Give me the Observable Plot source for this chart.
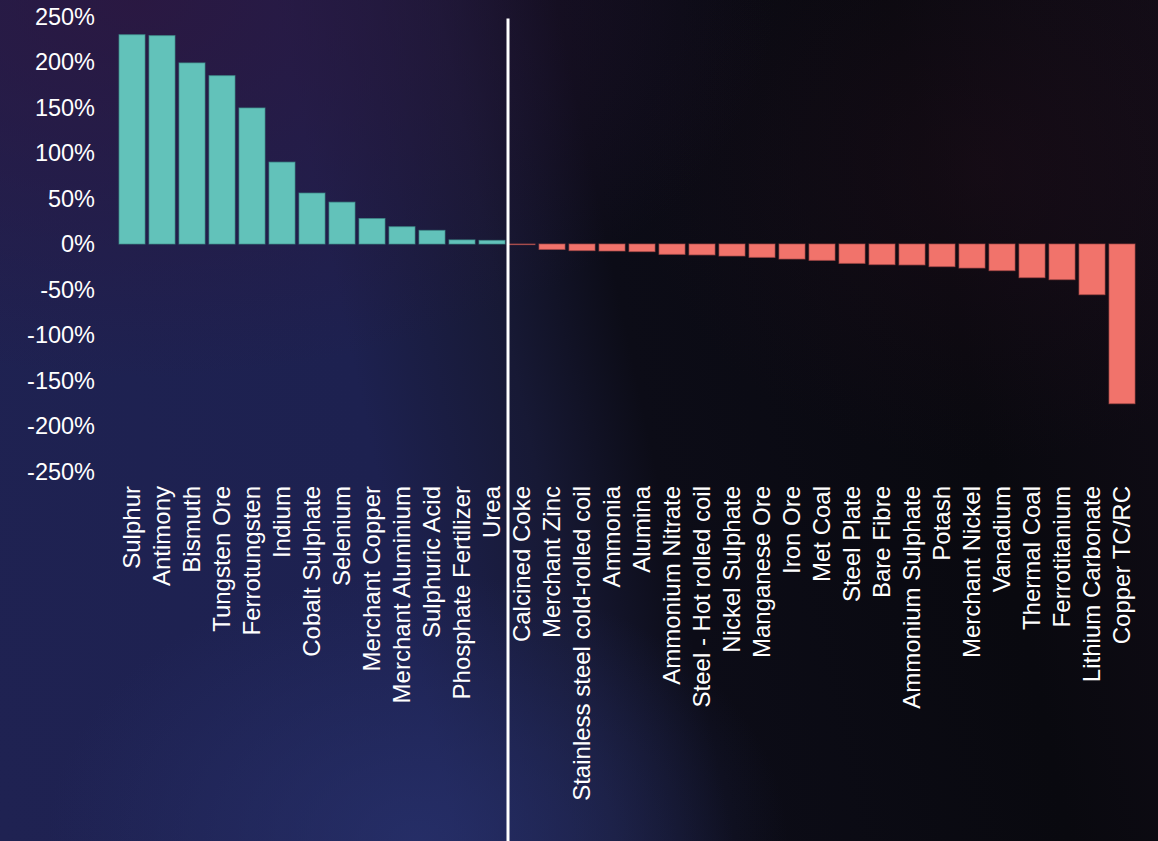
<!DOCTYPE html>
<html>
<head>
<meta charset="utf-8">
<script src="https://cdn.jsdelivr.net/npm/d3@7"></script>
<script src="https://cdn.jsdelivr.net/npm/@observablehq/plot@0.6"></script>
<style>
  html, body { margin: 0; padding: 0; width: 1158px; height: 841px; overflow: hidden; }
  body {
    background:
      radial-gradient(ellipse 32% 32% at 36% 100%, rgba(40,50,110,0.75) 0%, rgba(40,50,110,0) 100%),
      radial-gradient(ellipse 55% 45% at 12% 0%, rgba(45,22,62,0.8) 0%, rgba(45,22,62,0) 100%),
      radial-gradient(ellipse 30% 35% at 85% 20%, rgba(40,15,30,0.35) 0%, rgba(40,15,30,0) 100%),
      linear-gradient(78deg, #1f2252 0%, #1d2150 34%, #171935 46%, #0c0c17 55%, #09090f 80%, #110c16 100%);
    font-family: "Liberation Sans", Arial, sans-serif;
  }
  #chart svg { display: block; }
</style>
</head>
<body>
<div id="chart"></div>
<script>
const categories = [
  "Sulphur", "Antimony", "Bismuth", "Tungsten Ore", "Ferrotungsten", "Indium",
  "Cobalt Sulphate", "Selenium", "Merchant Copper", "Merchant Aluminium",
  "Sulphuric Acid", "Phosphate Fertilizer", "Urea", "Calcined Coke", "Merchant Zinc",
  "Stainless steel cold-rolled coil", "Ammonia", "Alumina", "Ammonium Nitrate",
  "Steel - Hot rolled coil", "Nickel Sulphate", "Manganese Ore", "Iron Ore", "Met Coal",
  "Steel Plate", "Bare Fibre", "Ammonium Sulphate", "Potash", "Merchant Nickel",
  "Vanadium", "Thermal Coal", "Ferrotitanium", "Lithium Carbonate", "Copper TC/RC"
];
const changes = [
  230, 229, 199, 185, 149.5, 90,
  56, 46, 28, 19,
  15, 4.5, 4, -0.7, -6,
  -7.3, -7.7, -8.4, -11.4,
  -12, -13.2, -14.7, -16.5, -18,
  -21.3, -22.7, -23, -24.9, -26.4,
  -29.3, -37, -39.2, -55.7, -175.5
];
const yTicks = [250, 200, 150, 100, 50, 0, -50, -100, -150, -200, -250];
const dividerAt = ["Calcined Coke"];

const data = categories.map((name, i) => ({name, value: changes[i]}));

const chart = Plot.plot({
  width: 1158,
  height: 841,
  marginTop: 16.5,
  marginLeft: 114,
  marginRight: 19,
  marginBottom: 369.5,
  style: {background: "transparent", color: "white", fontFamily: "'Liberation Sans', Arial, sans-serif"},
  x: {domain: categories, padding: 0.15, label: null},
  y: {domain: [-250, 250], label: null},
  marks: [
    Plot.barY(data, {
      x: "name", y: "value",
      fill: d => d.value >= 0 ? "#62c2ba" : "#f1736b",
      stroke: d => d.value >= 0 ? "#3f8f8a" : "#a84a48",
      strokeWidth: 1, strokeOpacity: 0.7
    }),
    Plot.axisY(yTicks, {
      tickSize: 0, tickPadding: 19.5, tickFormat: d => d + "%",
      fontSize: 23.5, fill: "white"
    }),
    Plot.axisX({
      tickSize: 0, tickPadding: 14, tickRotate: -90,
      fontSize: 24, fill: "white"
    }),
    Plot.ruleX(dividerAt, {
      x: d => d, dx: -14.5, stroke: "white", strokeWidth: 3,
      insetTop: 2, insetBottom: -370
    })
  ]
});
document.getElementById("chart").appendChild(chart);
</script>
</body>
</html>
